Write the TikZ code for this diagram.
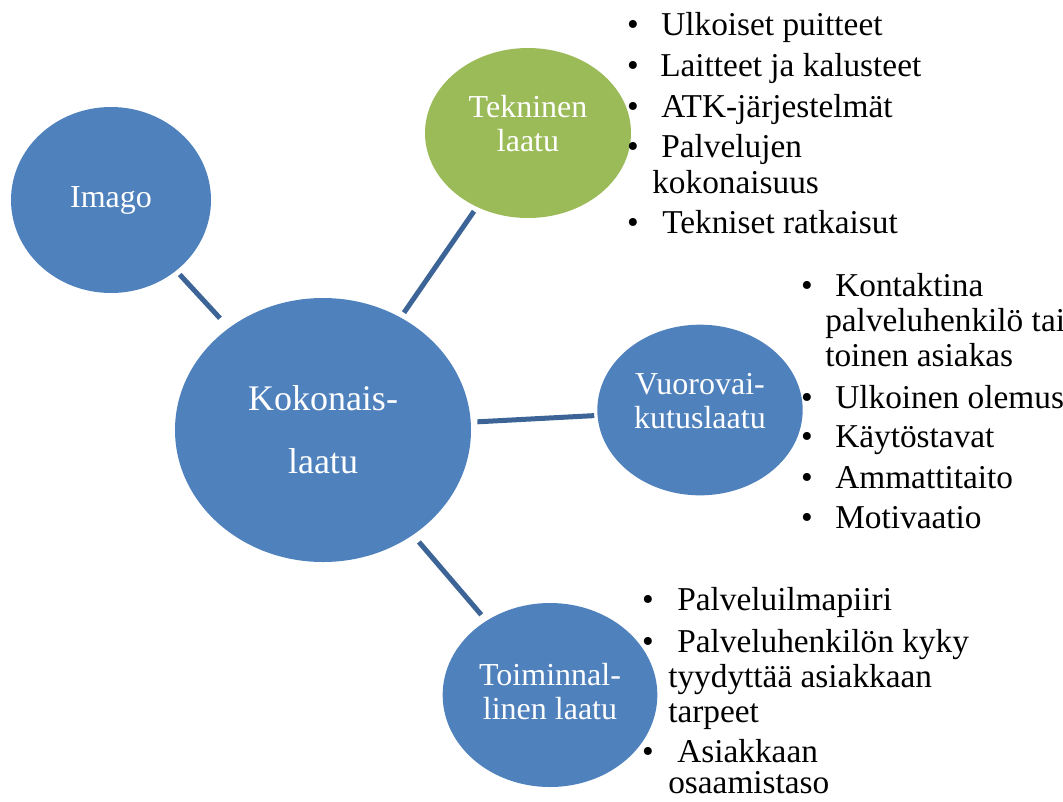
\documentclass[tikz,border=0pt]{standalone}
\usepackage{fontspec}
\setmainfont{Liberation Serif}
\usetikzlibrary{shapes.geometric}
\definecolor{cblue}{HTML}{4F81BD}
\definecolor{cgreen}{HTML}{9BBB59}
\definecolor{cline}{HTML}{3C6496}
\tikzset{
  circ/.style={ellipse, draw=none, inner sep=0pt, outer sep=0pt},
  ctext/.style={align=center, text=white, inner sep=0pt, font=\fontsize{24}{25.5}\selectfont},
  conn/.style={draw=cline, line width=3.75pt},
  bul/.style={anchor=base, inner sep=0pt, font=\fontsize{25}{30}\selectfont},
  itm/.style={anchor=base west, inner sep=0pt, font=\fontsize{25}{30}\selectfont}
}
\begin{document}
\begin{tikzpicture}[x=0.75pt,y=-0.75pt]
\useasboundingbox (0,0) rectangle (1063,801);
% circles
\node[circ, fill=cblue, minimum width=150pt, minimum height=139.5pt,
  label={[ctext]center:Imago}] (imago) at (111,200) {};
\node[circ, fill=cblue, minimum width=222pt, minimum height=198pt,
  label={[ctext, font=\fontsize{27}{47}\selectfont]center:{Kokonais-\\laatu}}] (koko) at (323,430) {};
\node[circ, fill=cgreen, minimum width=154.5pt, minimum height=127.5pt,
  label={[ctext, yshift=6.75pt]center:{Tekninen\\laatu}}] (tek) at (528,133) {};
\node[circ, fill=cblue, minimum width=154pt, minimum height=128pt,
  label={[ctext, yshift=6.75pt]center:{Vuorovai-\\kutuslaatu}}] (vuo) at (700,410) {};
\node[circ, fill=cblue, minimum width=161pt, minimum height=138pt,
  label={[ctext, yshift=2.25pt]center:{Toiminnal-\\linen laatu}}] (toi) at (550,695) {};
% connectors
\draw[conn, shorten <=4pt, shorten >=10pt] (imago) -- (koko);
\draw[conn, shorten <=4pt, shorten >=4.5pt] (tek) -- (koko);
\draw[conn, shorten <=5pt, shorten >=2.5pt] (koko) -- (vuo);
\draw[conn, shorten <=7pt, shorten >=6pt] (koko) -- (toi);
% list 1
\node[bul] (a1b) at (633,35) {•};  \node[itm] (a1) at (661,35) {Ulkoiset puitteet};
\node[bul] (a2b) at (633,76) {•};  \node[itm] (a2) at (660,76) {Laitteet ja kalusteet};
\node[bul] (a3b) at (633,117) {•}; \node[itm] (a3) at (661,117) {ATK-järjestelmät};
\node[bul] (a4b) at (633,157) {•}; \node[itm] (a4) at (661,157) {Palvelujen};
\node[itm] (a4c) at (652,193) {kokonaisuus};
\node[bul] (a5b) at (633,233) {•}; \node[itm] (a5) at (662,233) {Tekniset ratkaisut};
% list 2
\node[bul] (b1b) at (807,296) {•}; \node[itm] (b1) at (835,296) {Kontaktina};
\node[itm] (b1c) at (825,331) {palveluhenkilö tai};
\node[itm] (b1d) at (825,366) {toinen asiakas};
\node[bul] (b2b) at (807,408) {•}; \node[itm] (b2) at (835,408) {Ulkoinen olemus};
\node[bul] (b3b) at (807,447) {•}; \node[itm] (b3) at (835,447) {Käytöstavat};
\node[bul] (b4b) at (807,488) {•}; \node[itm] (b4) at (835,488) {Ammattitaito};
\node[bul] (b5b) at (807,528) {•}; \node[itm] (b5) at (835,528) {Motivaatio};
% list 3
\node[bul] (c1b) at (648,610) {•}; \node[itm] (c1) at (677,610) {Palveluilmapiiri};
\node[bul] (c2b) at (648,652) {•}; \node[itm] (c2) at (677,652) {Palveluhenkilön kyky};
\node[itm] (c2c) at (668,687) {tyydyttää asiakkaan};
\node[itm] (c2d) at (668,722) {tarpeet};
\node[bul] (c3b) at (648,762) {•}; \node[itm] (c3) at (677,762) {Asiakkaan};
\node[itm] (c3c) at (668,793) {osaamistaso};
\end{tikzpicture}
\end{document}
